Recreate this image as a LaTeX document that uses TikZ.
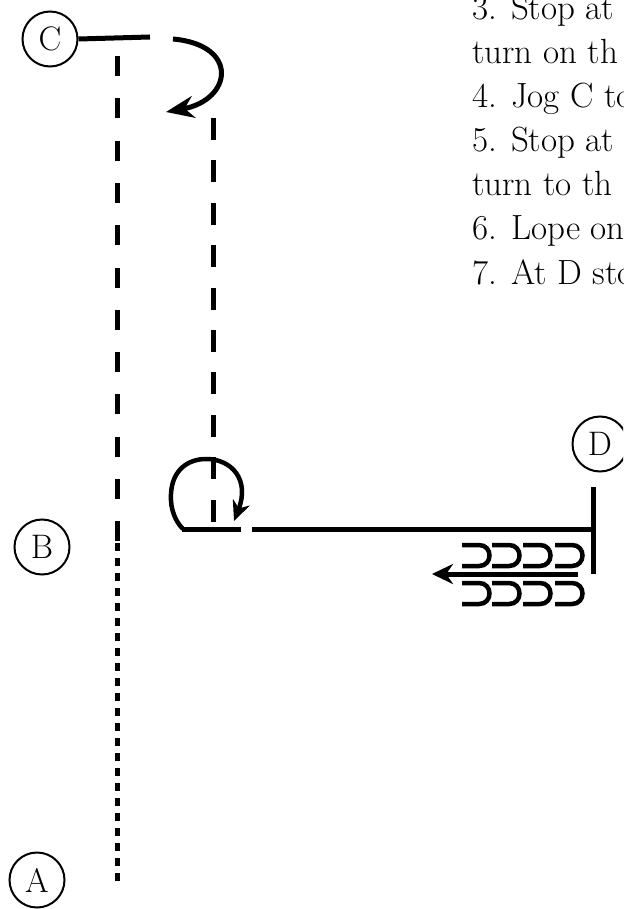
\documentclass[tikz,border=0pt]{standalone}
\usetikzlibrary{arrows.meta}
\begin{document}
\begin{tikzpicture}[x=1pt,y=-1pt,
  every node/.style={font=\fontsize{34}{40}\selectfont},
  letter/.style={circle,draw,line width=2pt,minimum size=55pt,inner sep=0pt},
  heavy/.style={line width=5pt},
  dashline/.style={line width=5pt,dash pattern=on 20pt off 22.3pt},
  dashline2/.style={line width=5pt,dash pattern=on 22pt off 20.4pt},
  dotline/.style={line width=5pt,dash pattern=on 8pt off 7pt},
  shoe/.style={line width=4.5pt},
  txt/.style={anchor=base west,inner sep=0pt,font=\fontsize{35}{40}\selectfont}]
\useasboundingbox (0,0) rectangle (623,909);
\clip (0,0) rectangle (623,909);
% circles
\node[letter] (C) at (50,39) {C};
\node[letter] (B) at (42,547) {B};
\node[letter] (A) at (37,880) {A};
\node[letter] (D) at (600,444) {D};
% coordinates
\coordinate (cEnd) at (150,37);
\coordinate (arcS) at (173,39);
\coordinate (arcE) at (166,112);
\coordinate (l1) at (117,56);
\coordinate (l2) at (117,543);
\coordinate (l3) at (117,886);
\coordinate (r1) at (213,118);
\coordinate (r2) at (213,522);
\coordinate (loopS) at (183,529);
\coordinate (loopE) at (234,521);
\coordinate (h1) at (182,529);
\coordinate (h2) at (241,529);
\coordinate (h3) at (252,529);
\coordinate (h4) at (593,529);
\coordinate (v1) at (593,487);
\coordinate (v2) at (593,574);
\coordinate (a1) at (578,574);
\coordinate (a2) at (432,574);
% line from C
\draw[heavy] (C.east) -- (cEnd);
% turn arrow near C
\draw[heavy,-{Stealth[length=28pt,width=22pt]}] (arcS) .. controls (240,45) and (232,100) .. (arcE);
% left path
\draw[dashline] (l1) -- (l2);
\draw[dotline] (l2) -- (l3);
% right dashed path
\draw[dashline2] (r1) -- (r2);
% spin loop
\draw[line width=4.5pt,-{Stealth[length=20pt,width=18pt]}] (loopS) .. controls (176,522) and (170,510) .. (171,494) .. controls (172,470) and (188,459) .. (206,459) .. controls (232,459) and (250,480) .. (loopE);
% horizontal lines
\draw[heavy] (h1) -- (h2);
\draw[heavy] (h3) -- (h4);
\draw[heavy] (v1) -- (v2);
% stop marks
\foreach \x in {462,492,523,555}{
  \draw[shoe] (\x,545) -- (\x+17,545) .. controls (\x+31,545) and (\x+31,566) .. (\x+17,566) -- (\x,566);
  \draw[shoe] (\x,583) -- (\x+17,583) .. controls (\x+31,583) and (\x+31,604) .. (\x+17,604) -- (\x,604);
}
\draw[heavy,-{Stealth[length=21pt,width=20pt]}] (a1) -- (a2);
% text
\node[txt] (t1) at (472,20) {3. Stop at};
\node[txt] (t2) at (472,64) {turn on th};
\node[txt] (t3) at (472,108) {4. Jog C to};
\node[txt] (t4) at (472,152) {5. Stop at};
\node[txt] (t5) at (472,196) {turn to th};
\node[txt] (t6) at (472,240) {6. Lope on};
\node[txt] (t7) at (472,284) {7. At D sto};
\end{tikzpicture}
\end{document}
